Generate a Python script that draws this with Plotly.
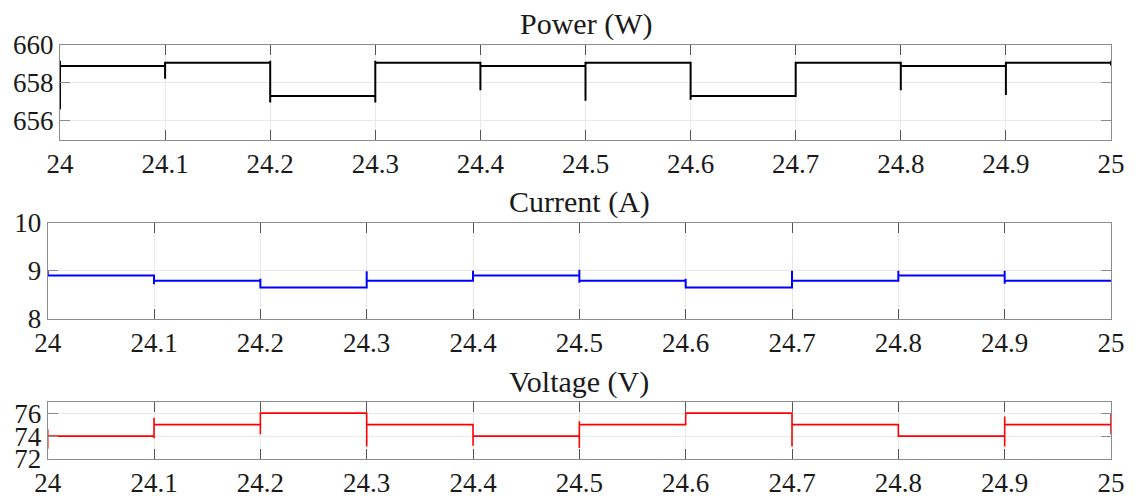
import plotly.graph_objects as go

# ---- data ----
t_edges = [24.0, 24.1, 24.2, 24.3, 24.4, 24.5, 24.6, 24.7, 24.8, 24.9, 25.0]
x_tickvals = [24.0, 24.1, 24.2, 24.3, 24.4, 24.5, 24.6, 24.7, 24.8, 24.9, 25.0]
x_ticktext = ["24", "24.1", "24.2", "24.3", "24.4", "24.5", "24.6", "24.7", "24.8", "24.9", "25"]

power_levels = [658.88, 659.05, 657.3, 659.05, 658.88, 659.05, 657.3, 659.05, 658.88, 659.05]
power_spike_hi = [659.15, 659.05, 659.15, 659.15, 659.05, 659.05, 659.1, 659.1, 659.05, 659.05, 659.15]
power_spike_lo = [656.6, 658.2, 656.95, 656.95, 657.6, 657.05, 657.1, 657.3, 657.6, 657.35, 658.9]

current_levels = [8.90, 8.79, 8.65, 8.79, 8.90, 8.79, 8.65, 8.79, 8.90, 8.79]
current_spike_hi = [9.0, 8.90, 8.83, 8.99, 9.0, 9.02, 8.83, 9.0, 9.0, 9.0, 8.79]
current_spike_lo = [8.88, 8.72, 8.65, 8.65, 8.79, 8.75, 8.65, 8.65, 8.79, 8.73, 8.79]

voltage_levels = [74.0, 75.0, 76.0, 75.0, 74.0, 75.0, 76.0, 75.0, 74.0, 75.0]
voltage_spike_hi = [74.6, 75.6, 76.0, 76.0, 75.0, 75.3, 76.0, 76.0, 75.0, 75.7, 75.95]
voltage_spike_lo = [72.9, 73.8, 74.15, 73.1, 73.15, 72.95, 75.0, 73.1, 74.0, 73.1, 74.15]

power_yticks = [656, 658, 660]
current_yticks = [8, 9, 10]
voltage_yticks = [72, 74, 76]


def step_path(edges, levels, hi, lo):
    xs, ys = [], []
    n = len(levels)
    for k, t in enumerate(edges):
        pts = []
        if k > 0:
            pts.append(levels[k - 1])
        pts += [hi[k], lo[k]]
        if k < n:
            pts.append(levels[k])
        for p in pts:
            xs.append(t)
            ys.append(p)
    return xs, ys


FONT = "Liberation Serif"
fig = go.Figure()

series = [
    (power_levels, power_spike_hi, power_spike_lo, "#000000", 2.0, "x", "y"),
    (current_levels, current_spike_hi, current_spike_lo, "#0000ff", 2.0, "x2", "y2"),
    (voltage_levels, voltage_spike_hi, voltage_spike_lo, "#ff0000", 1.6, "x3", "y3"),
]
for lv, hi, lo, col, w, xa, ya in series:
    xs, ys = step_path(t_edges, lv, hi, lo)
    fig.add_trace(go.Scatter(x=xs, y=ys, mode="lines", line=dict(color=col, width=w),
                             xaxis=xa, yaxis=ya, showlegend=False, hoverinfo="skip"))

W, H = 1136, 499


def px_x(p):
    return p / W


def px_y(p):
    return 1 - p / H


common_x = dict(range=[24, 25], tickvals=x_tickvals, ticktext=x_ticktext,
                showgrid=True, gridcolor="#e8e8e8", gridwidth=1,
                ticks="inside", ticklen=10, tickcolor="#555555", tickwidth=1,
                showline=True, linecolor="#8c8c8c", linewidth=1, mirror="ticks",
                zeroline=False, tickfont=dict(family=FONT, size=27, color="#1a1a1a"),
                ticklabelstandoff=0, automargin=False)
common_y = dict(showgrid=True, gridcolor="#e8e8e8", gridwidth=1,
                ticks="inside", ticklen=10, tickcolor="#8c8c8c", tickwidth=1,
                showline=True, linecolor="#8c8c8c", linewidth=1, mirror="ticks",
                zeroline=False, tickfont=dict(family=FONT, size=27, color="#1a1a1a"),
                automargin=False)

fig.update_layout(
    width=W, height=H, margin=dict(l=0, r=0, t=0, b=0, autoexpand=False),
    paper_bgcolor="white", plot_bgcolor="white",
    xaxis=dict(domain=[px_x(60), px_x(1111)], anchor="y", **common_x),
    yaxis=dict(domain=[px_y(139.5), px_y(44.7)], anchor="x", range=[655, 660],
               tickvals=power_yticks, **common_y),
    xaxis2=dict(domain=[px_x(47.7), px_x(1111)], anchor="y2", **common_x),
    yaxis2=dict(domain=[px_y(318.7), px_y(222.7)], anchor="x2", range=[8, 10],
                tickvals=current_yticks, **common_y),
    xaxis3=dict(domain=[px_x(47.7), px_x(1111)], anchor="y3", **common_x),
    yaxis3=dict(domain=[px_y(459), px_y(401.7)], anchor="x3", range=[72, 77],
                tickvals=voltage_yticks, **common_y),
)

titles = [("Power (W)", (60 + 1111) / 2, 24), ("Current (A)", (47.7 + 1111) / 2, 202),
          ("Voltage (V)", (47.7 + 1111) / 2, 382)]
for txt, cx, cy in titles:
    fig.add_annotation(text=txt, xref="paper", yref="paper", x=px_x(cx), y=px_y(cy),
                       xanchor="center", yanchor="middle", showarrow=False,
                       font=dict(family=FONT, size=30, color="#1a1a1a"))

fig.write_html("out.html")
